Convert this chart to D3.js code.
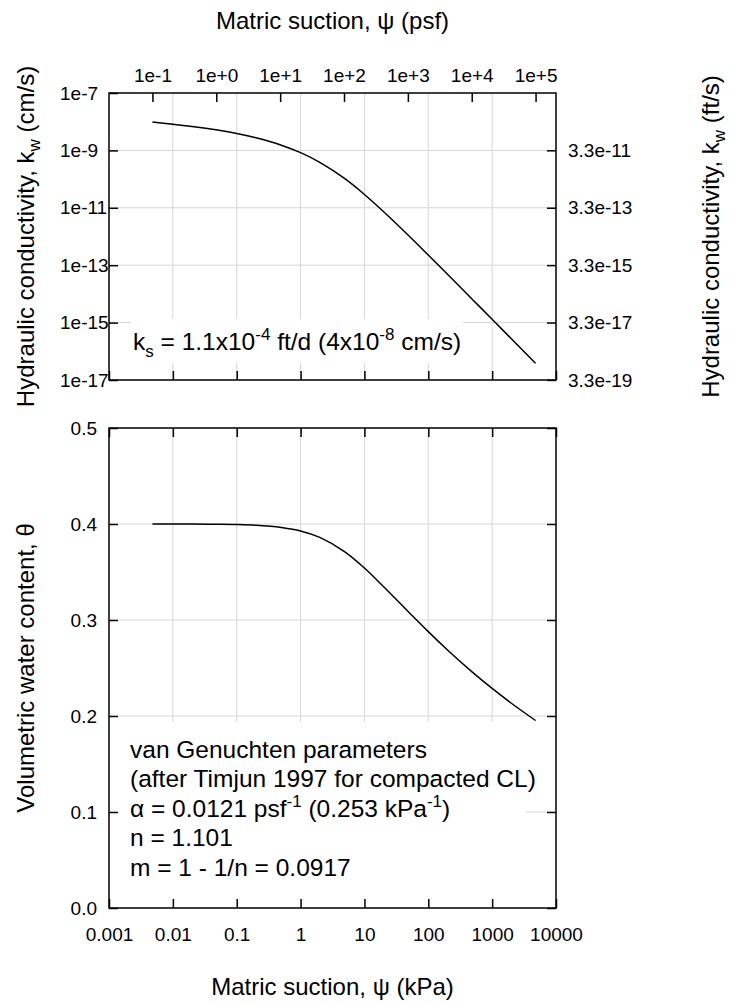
<!DOCTYPE html>
<html><head><meta charset="utf-8">
<script src="https://cdn.jsdelivr.net/npm/d3@7"></script>
<style>body{margin:0;background:#fff}svg{display:block}text{font-family:"Liberation Sans",Arial,sans-serif;fill:#000}</style>
</head><body><svg id="c" width="733" height="1004"></svg>
<script>
// ---- data ----
const psiKPa = [0.00479, 0.01, 0.02, 0.05, 0.1, 0.2, 0.5, 1, 2, 5, 10, 20, 50, 100, 200, 500, 1000, 2000, 4790];
const kw = [9.70e-9, 8.22e-9, 6.85e-9, 5.10e-9, 3.87e-9, 2.75e-9, 1.52e-9, 8.37e-10, 3.85e-10, 1.01e-10, 2.91e-11, 7.30e-12, 1.04e-12, 2.25e-13, 4.81e-14, 6.16e-15, 1.30e-15, 2.72e-16, 3.81e-17];
const theta = [0.400, 0.39995, 0.3999, 0.3997, 0.3994, 0.3987, 0.3964, 0.3928, 0.3861, 0.3707, 0.3541, 0.3347, 0.3079, 0.2879, 0.2688, 0.2452, 0.2287, 0.2133, 0.1953];
const kPaTicks = [0.001, 0.01, 0.1, 1, 10, 100, 1000, 10000];
const kPaLabels = ["0.001", "0.01", "0.1", "1", "10", "100", "1000", "10000"];
const psfTicks = [1e-1, 1e0, 1e1, 1e2, 1e3, 1e4, 1e5];
const psfLabels = ["1e-1", "1e+0", "1e+1", "1e+2", "1e+3", "1e+4", "1e+5"];
const kTicks = [1e-7, 1e-9, 1e-11, 1e-13, 1e-15, 1e-17];
const kLabels = ["1e-7", "1e-9", "1e-11", "1e-13", "1e-15", "1e-17"];
const ftLabels = ["3.3e-11", "3.3e-13", "3.3e-15", "3.3e-17", "3.3e-19"];
const thetaTicks = [0.0, 0.1, 0.2, 0.3, 0.4, 0.5];
const psfPerKPa = 20.885;
const cmPerFt = 30.48;

const svg = d3.select("#c");
const L = 109, R = 556;
const T1 = 93, B1 = 380, T2 = 428, B2 = 908;
const FS = 19;   // tick labels
const TF = 24;   // axis titles
const AF = 24.5; // annotations
const SUB = 17;  // sub/superscripts

const x = d3.scaleLog().domain([0.001, 10000]).range([L, R]);
const xPsf = d3.scaleLog().domain([0.001 * psfPerKPa, 10000 * psfPerKPa]).range([L, R]);
const yK = d3.scaleLog().domain([1e-17, 1e-7]).range([B1, T1]);
const yFt = d3.scaleLog().domain([1e-17 / cmPerFt, 1e-7 / cmPerFt]).range([B1, T1]);
const yT = d3.scaleLinear().domain([0, 0.5]).range([B2, T2]);

const grid = svg.append("g").attr("stroke", "#d6d6d6").attr("stroke-width", 1);
kPaTicks.slice(1, -1).forEach(v => grid.append("line").attr("x1", x(v)).attr("x2", x(v)).attr("y1", T1).attr("y2", B1));
kTicks.slice(1, -1).forEach(v => grid.append("line").attr("x1", L).attr("x2", R).attr("y1", yK(v)).attr("y2", yK(v)));
kPaTicks.slice(1, -1).forEach(v => grid.append("line").attr("x1", x(v)).attr("x2", x(v)).attr("y1", T2).attr("y2", B2));
thetaTicks.slice(1, -1).forEach(v => grid.append("line").attr("x1", L).attr("x2", R).attr("y1", yT(v)).attr("y2", yT(v)));

const bgLayer = svg.append("g");

const lineK = d3.line().x((d, i) => x(psiKPa[i])).y(d => yK(d)).curve(d3.curveMonotoneX);
const lineT = d3.line().x((d, i) => x(psiKPa[i])).y(d => yT(d)).curve(d3.curveMonotoneX);
svg.append("path").attr("d", lineK(kw)).attr("fill", "none").attr("stroke", "#000").attr("stroke-width", 1.5);
svg.append("path").attr("d", lineT(theta)).attr("fill", "none").attr("stroke", "#000").attr("stroke-width", 1.5);

function styleAxis(g) {
  g.select(".domain").remove();
  g.selectAll(".tick line").attr("stroke", "#000").attr("stroke-width", 1.5);
  g.selectAll(".tick text").attr("font-size", FS).attr("font-family", "Liberation Sans, Arial, sans-serif").attr("fill", "#000");
}
const TK = 9;
svg.append("g").attr("transform", `translate(0,${T1})`)
  .call(d3.axisTop(xPsf).tickValues(psfTicks).tickFormat((d, i) => psfLabels[i]).tickSize(-TK).tickPadding(11)).call(styleAxis);
svg.append("g").attr("transform", `translate(0,${B1})`)
  .call(d3.axisBottom(x).tickValues(kPaTicks).tickFormat("").tickSize(-TK)).call(styleAxis);
const gl = svg.append("g").attr("transform", `translate(${L},0)`)
  .call(d3.axisLeft(yK).tickValues(kTicks).tickFormat((d, i) => kLabels[i]).tickSize(-TK)).call(styleAxis);
gl.selectAll(".tick text").attr("text-anchor", "start").attr("x", 60 - L);
svg.append("g").attr("transform", `translate(${R},0)`)
  .call(d3.axisRight(yFt).tickValues(ftLabels.map(parseFloat)).tickFormat((d, i) => ftLabels[i]).tickSize(-TK).tickPadding(12)).call(styleAxis);
svg.append("g").attr("transform", `translate(0,${B2})`)
  .call(d3.axisBottom(x).tickValues(kPaTicks).tickFormat((d, i) => kPaLabels[i]).tickSize(-TK).tickPadding(20)).call(styleAxis);
svg.append("g").attr("transform", `translate(0,${T2})`)
  .call(d3.axisTop(x).tickValues(kPaTicks).tickFormat("").tickSize(-TK)).call(styleAxis);
svg.append("g").attr("transform", `translate(${L},0)`)
  .call(d3.axisLeft(yT).tickValues(thetaTicks).tickFormat(d3.format(".1f")).tickSize(-TK).tickPadding(12)).call(styleAxis);
svg.append("g").attr("transform", `translate(${R},0)`)
  .call(d3.axisRight(yT).tickValues(thetaTicks).tickFormat("").tickSize(-TK)).call(styleAxis);

[[T1, B1], [T2, B2]].forEach(([t, b]) => svg.append("rect").attr("x", L).attr("y", t).attr("width", R - L).attr("height", b - t)
  .attr("fill", "none").attr("stroke", "#000").attr("stroke-width", 1.5));

svg.append("text").attr("x", (L + R) / 2).attr("y", 29).attr("text-anchor", "middle").attr("font-size", TF).text("Matric suction, ψ (psf)");
svg.append("text").attr("x", (L + R) / 2).attr("y", 995).attr("text-anchor", "middle").attr("font-size", TF).text("Matric suction, ψ (kPa)");

function kTitle(xc, unit) {
  const t = svg.append("text").attr("transform", `translate(${xc},${(T1 + B1) / 2}) rotate(-90)`)
    .attr("text-anchor", "middle").attr("font-size", TF);
  t.append("tspan").text("Hydraulic conductivity, k");
  t.append("tspan").attr("font-size", SUB).attr("dy", 6).text("w");
  t.append("tspan").attr("dy", -6).text(" (" + unit + ")");
}
kTitle(34, "cm/s");
kTitle(719, "ft/s");
svg.append("text").attr("transform", `translate(34,${(T2 + B2) / 2}) rotate(-90)`)
  .attr("text-anchor", "middle").attr("font-size", TF).text("Volumetric water content, θ");

const ks = svg.append("text").attr("x", 133).attr("y", 350).attr("font-size", AF);
ks.append("tspan").text("k");
ks.append("tspan").attr("font-size", SUB).attr("dy", 7).text("s");
ks.append("tspan").attr("dy", -7).text(" = 1.1x10");
ks.append("tspan").attr("font-size", SUB).attr("dy", -10).text("-4");
ks.append("tspan").attr("dy", 10).text(" ft/d (4x10");
ks.append("tspan").attr("font-size", SUB).attr("dy", -10).text("-8");
ks.append("tspan").attr("dy", 10).text(" cm/s)");
const bb = ks.node().getBBox();
bgLayer.append("rect").attr("x", bb.x - 2).attr("y", bb.y - 6).attr("width", bb.width + 4).attr("height", bb.height + 8).attr("fill", "#fff");

const vg = svg.append("g");
const lines = [
  ["van Genuchten parameters"],
  ["(after Timjun 1997 for compacted CL)"],
  ["α = 0.0121 psf", "-1", " (0.253 kPa", "-1", ")"],
  ["n = 1.101"],
  ["m = 1 - 1/n = 0.0917"]
];
lines.forEach((parts, li) => {
  const t = vg.append("text").attr("x", 130).attr("y", 757.5 + li * 29.6).attr("font-size", AF);
  parts.forEach((p, pi) => {
    const s = t.append("tspan").text(p);
    if (pi % 2 === 1) s.attr("font-size", SUB).attr("dy", -10);
    else if (pi > 0) s.attr("dy", 10);
  });
});
bgLayer.append("rect").attr("x", L + 1).attr("y", 722).attr("width", 525 - L).attr("height", B2 - 722 - 1).attr("fill", "#fff");
</script></body></html>
